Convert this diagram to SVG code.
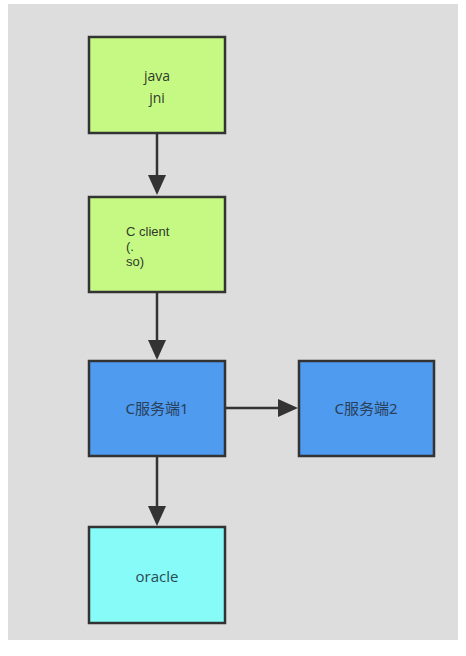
<svg xmlns="http://www.w3.org/2000/svg" width="466" height="656" viewBox="0 0 466 656">
<style>
.box{stroke:#333;stroke-width:2.5}
.g{fill:#c6f983}
.b{fill:#4e9bf0}
.c{fill:#86fbf8}
.t{font-size:14px;fill:#2f3b2a}
.cc{font-size:13px;fill:#2f3b2a;font-family:'Liberation Sans',Arial,sans-serif}
.edge{stroke:#333;stroke-width:2.5;fill:none}
.head{fill:#333}
</style>
<rect x="0" y="0" width="466" height="656" fill="#ffffff"/>
<rect x="8" y="4" width="450" height="636" fill="#dddddd"/>
<g id="connectors">
<line class="edge" x1="157" y1="134" x2="157" y2="180"/>
<line class="edge" x1="157" y1="293" x2="157" y2="345"/>
<line class="edge" x1="226" y1="408" x2="283" y2="408"/>
<line class="edge" x1="157" y1="457" x2="157" y2="511"/>
<path class="head" d="M148,175 L166,175 L157,195 z"/>
<path class="head" d="M148,340 L166,340 L157,360 z"/>
<path class="head" d="M278,399 L278,417 L298,408 z"/>
<path class="head" d="M148,506 L166,506 L157,526 z"/>
</g>
<g id="node-java">
<rect class="box g" x="89" y="37" width="136" height="96"/>
<text class="t" x="157" y="81" text-anchor="middle" font-family="'Open Sans','Noto Sans',sans-serif">java</text>
<text class="t" x="157" y="103" text-anchor="middle" font-family="'Open Sans','Noto Sans',sans-serif">jni</text>
</g>
<g id="node-cclient">
<rect class="box g" x="89" y="197" width="136" height="95"/>
<text class="cc" x="126" y="236">C client</text>
<text class="cc" x="126" y="251">(.</text>
<text class="cc" x="126" y="266">so)</text>
</g>
<g id="node-server1">
<rect class="box b" x="89" y="361" width="136" height="95"/>
<text x="157" y="414" text-anchor="middle" font-size="15" fill="#2a3f5a" font-family="'Noto Sans','Noto Sans CJK SC',sans-serif">C服务端1</text>
</g>
<g id="node-server2">
<rect class="box b" x="299" y="361" width="135" height="95"/>
<text x="366" y="414" text-anchor="middle" font-size="15" fill="#2a3f5a" font-family="'Noto Sans','Noto Sans CJK SC',sans-serif">C服务端2</text>
</g>
<g id="node-oracle">
<rect class="box c" x="89" y="527" width="136" height="96"/>
<text x="157" y="582" text-anchor="middle" font-size="15" fill="#2a4a55" font-family="'Open Sans','Noto Sans',sans-serif">oracle</text>
</g>
</svg>
